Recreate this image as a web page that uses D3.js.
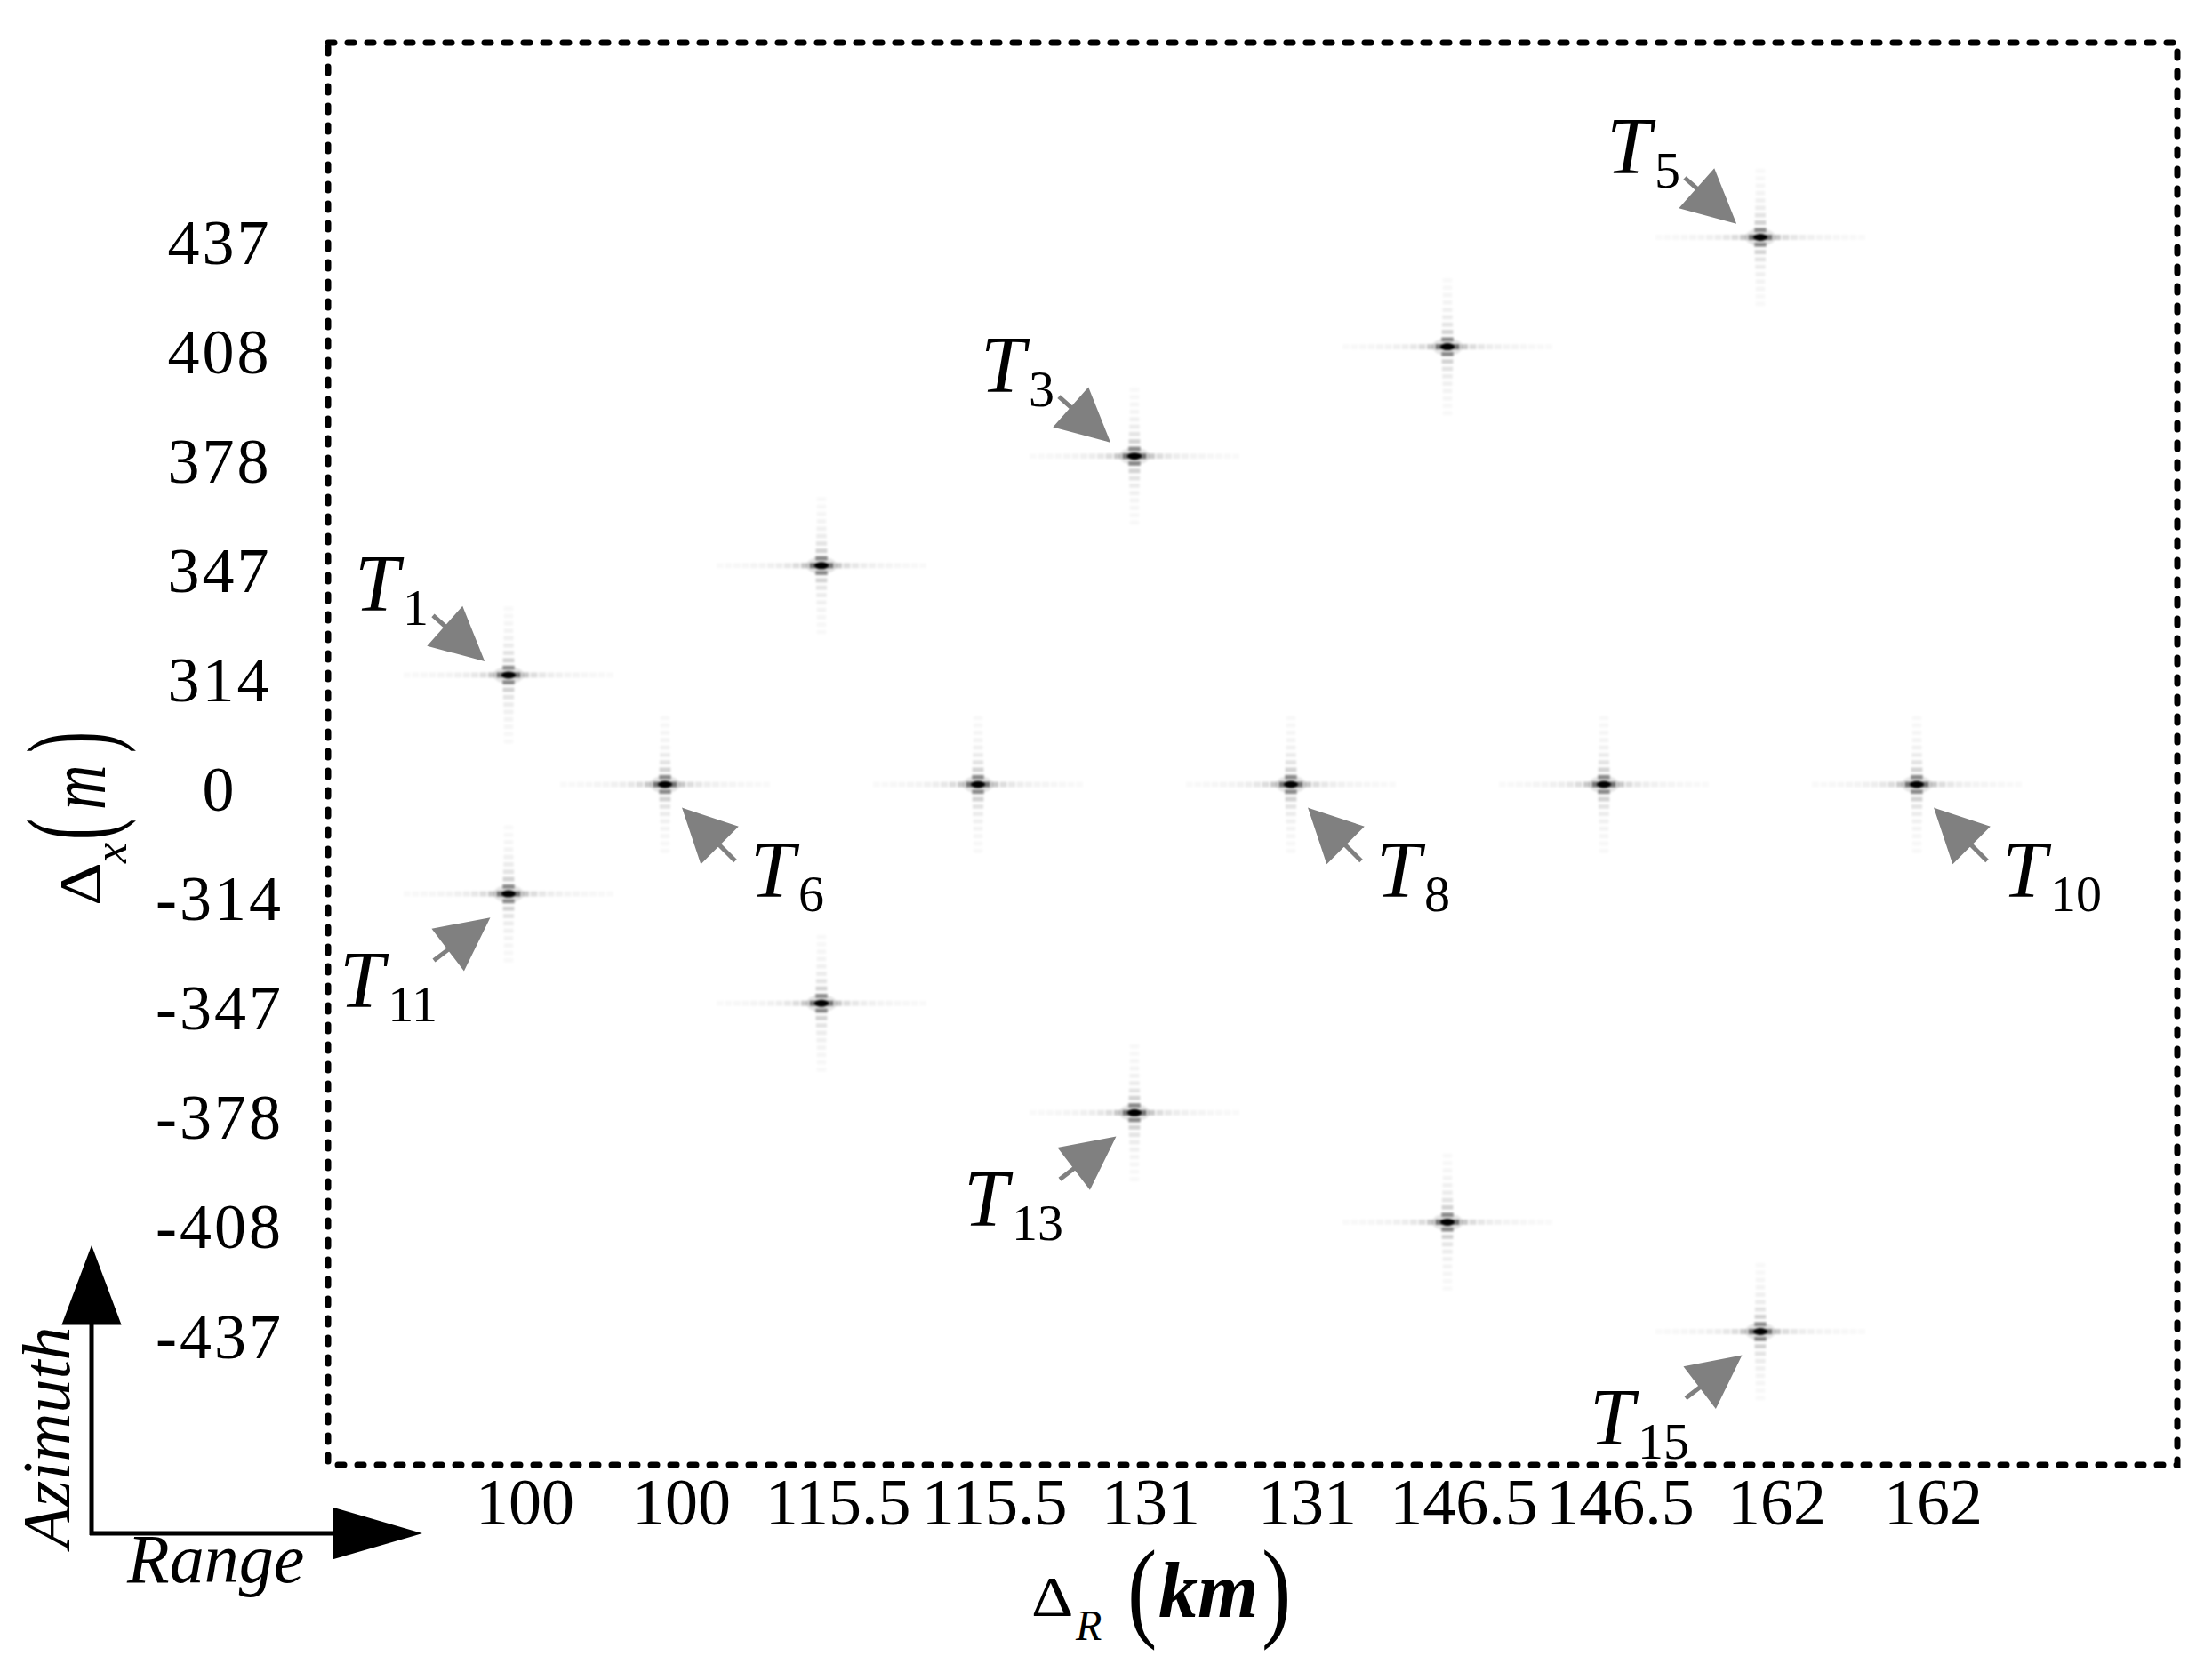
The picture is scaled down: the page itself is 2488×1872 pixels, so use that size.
<!DOCTYPE html>
<meta charset="utf-8">
<style>
  body { margin: 0; background: #fff; }
  text { font-family: "Liberation Serif", "Times New Roman", serif; fill: #000; }

  .frame {
    fill: none;
    stroke: #000;
    stroke-width: 7;
    stroke-dasharray: 7,15;
    stroke-linecap: round;
  }

  .x.axis text { font-size: 74px; }
  .y.axis text { font-size: 72px; letter-spacing: 3px; }

  .pointer { fill: #808080; stroke: #808080; stroke-width: 5; }
  .compass { fill: #000; stroke: #000; stroke-width: 5; }

  .tname { font-style: italic; font-size: 90px; }
  .tname tspan { font-style: normal; font-size: 58px; }
  .it { font-style: italic; }
</style>
<body>
<script src="https://d3js.org/d3.v7.min.js"></script>
<script>
var width = 2488, height = 1872;

// tick labels
var rangeLabels = ["100", "100", "115.5", "115.5", "131", "131", "146.5", "146.5", "162", "162"];
var azimuthLabels = ["437", "408", "378", "347", "314", "0", "-314", "-347", "-378", "-408", "-437"];

// point targets: number, range column, azimuth row
var targetIds = [1, 2, 3, 4, 5, 6, 7, 8, 9, 10, 11, 12, 13, 14, 15];
var targetCol = [0, 2, 4, 6, 8, 1, 3, 5, 7, 9, 0, 2, 4, 6, 8];
var targetRow = ["314", "347", "378", "408", "437", "0", "0", "0", "0", "0", "-314", "-347", "-378", "-408", "-437"];
var namedTargets = [1, 3, 5, 6, 8, 10, 11, 13, 15];

var frame = {left: 369, top: 48, right: 2449, bottom: 1648};

var svg = d3.select("body").append("svg")
    .attr("width", width)
    .attr("height", height);

var defs = svg.append("defs");
defs.append("filter").attr("id", "soft")
    .attr("x", "-50%").attr("y", "-50%").attr("width", "200%").attr("height", "200%")
  .append("feGaussianBlur").attr("stdDeviation", 0.9);

var x = d3.scalePoint()
    .domain(d3.range(rangeLabels.length))
    .range([572, 2156]);

var y = d3.scalePoint()
    .domain(azimuthLabels)
    .range([267, 1498]);

// dotted frame
svg.append("rect")
    .attr("class", "frame")
    .attr("x", frame.left)
    .attr("y", frame.top)
    .attr("width", frame.right - frame.left)
    .attr("height", frame.bottom - frame.top);

// axes (labels only)
var gx = svg.append("g")
    .attr("class", "x axis")
    .attr("transform", "translate(18," + (frame.bottom + 14) + ")")
    .call(d3.axisBottom(x).tickSize(0).tickPadding(0).tickFormat(function(i) { return rangeLabels[i]; }));
gx.select(".domain").remove();

var gy = svg.append("g")
    .attr("class", "y axis")
    .attr("transform", "translate(247,6)")
    .call(d3.axisLeft(y).tickSize(0).tickPadding(0));
gy.select(".domain").remove();
gy.selectAll("text").attr("text-anchor", "middle").attr("x", 0);

// targets
var targets = targetIds.map(function(id, i) {
  return {id: id, col: targetCol[i], row: targetRow[i]};
});

var hLobes = d3.range(1, 13).flatMap(function(k) { return [k, -k]; });
var vLobes = d3.range(1, 10).flatMap(function(k) { return [k, -k]; });

var tg = svg.append("g").attr("class", "targets")
  .selectAll("g")
    .data(targets)
  .enter().append("g")
    .attr("transform", function(d) { return "translate(" + x(d.col) + "," + y(d.row) + ")"; })
    .attr("filter", "url(#soft)");

tg.selectAll(".hl")
    .data(hLobes)
  .enter().append("rect")
    .attr("class", "hl")
    .attr("x", function(k) { return k * 9.5 - 4; })
    .attr("y", -3)
    .attr("width", 8)
    .attr("height", 6)
    .attr("fill", "#000")
    .attr("fill-opacity", function(k) { return 0.5 * Math.pow(Math.abs(k), -1.2); });

tg.selectAll(".vl")
    .data(vLobes)
  .enter().append("rect")
    .attr("class", "vl")
    .attr("x", function(k) { return -7 + Math.min(Math.abs(k), 6) * 0.3; })
    .attr("y", function(k) { return k * 8.3 - 2.5; })
    .attr("width", function(k) { return 14 - Math.min(Math.abs(k), 6) * 0.6; })
    .attr("height", 5)
    .attr("fill", "#000")
    .attr("fill-opacity", function(k) { return 0.4 * Math.pow(Math.abs(k), -1.2); });

tg.append("ellipse")
    .attr("rx", 17).attr("ry", 10)
    .attr("fill", "#000").attr("fill-opacity", 0.1);

tg.append("ellipse")
    .attr("rx", 8).attr("ry", 4)
    .attr("fill", "#000");

// target names with grey pointers
var sides = {
  nw: {anchor: "end", tx: -90, ty: -72, from: [-85, -67], to: [-31, -19]},
  se: {anchor: "start", tx: 96, ty: 126, from: [79, 86], to: [23, 30]},
  sw: {anchor: "end", tx: -80, ty: 127, from: [-84, 75], to: [-25, 30]}
};

function sideOf(d) {
  var r = azimuthLabels.indexOf(d.row), mid = azimuthLabels.indexOf("0");
  return r < mid ? "nw" : (r === mid ? "se" : "sw");
}

function arrowPath(x0, y0, x1, y1, headLen, headHalf) {
  var dx = x1 - x0, dy = y1 - y0, len = Math.sqrt(dx * dx + dy * dy);
  var ux = dx / len, uy = dy / len, nx = -uy, ny = ux;
  var bx = x1 - ux * headLen, by = y1 - uy * headLen;
  return "M" + x0 + "," + y0 + "L" + bx + "," + by +
    "M" + x1 + "," + y1 +
    "L" + (bx + nx * headHalf) + "," + (by + ny * headHalf) +
    "L" + (bx - nx * headHalf) + "," + (by - ny * headHalf) + "Z";
}

var named = targets.filter(function(d) { return namedTargets.indexOf(d.id) >= 0; });

var lg = svg.append("g").attr("class", "names")
  .selectAll("g")
    .data(named)
  .enter().append("g")
    .attr("transform", function(d) { return "translate(" + x(d.col) + "," + y(d.row) + ")"; });

lg.append("path")
    .attr("class", "pointer")
    .attr("d", function(d) {
      var s = sides[sideOf(d)];
      return arrowPath(s.from[0], s.from[1], s.to[0], s.to[1], 52, 26);
    });

var nt = lg.append("text")
    .attr("class", "tname")
    .attr("x", function(d) { return sides[sideOf(d)].tx; })
    .attr("y", function(d) { return sides[sideOf(d)].ty; })
    .attr("text-anchor", function(d) { return sides[sideOf(d)].anchor; })
    .text("T");
nt.append("tspan")
    .attr("dx", 4)
    .attr("dy", 16)
    .text(function(d) { return d.id; });

// azimuth / range compass
var compass = svg.append("g").attr("class", "compass");
compass.append("path").attr("d", arrowPath(103, 1727, 103, 1408, 80, 30));
compass.append("path").attr("d", arrowPath(101, 1725, 466, 1725, 89, 26));

svg.append("text")
    .attr("class", "it")
    .attr("transform", "translate(78,1617) rotate(-90)")
    .attr("text-anchor", "middle")
    .style("font-size", "76px")
    .text("Azimuth");

svg.append("text")
    .attr("class", "it")
    .attr("x", 143)
    .attr("y", 1780)
    .style("font-size", "78px")
    .text("Range");

// y title: Δx(m), rotated
var yt = svg.append("g").attr("transform", "translate(112,1015) rotate(-90)");
yt.append("text").attr("transform", "translate(-4,0) scale(1.15,1)").style("font-size", "66px").text("Δ");
yt.append("text").attr("class", "it").attr("x", 44).attr("y", 30).style("font-size", "52px").text("x");
yt.append("text").attr("transform", "translate(70,12) scale(1,1.88)").style("font-size", "72px").text("(");
yt.append("text").attr("class", "it").attr("transform", "translate(104,6) scale(1,1.3)")
    .style("font-size", "70px").text("m");
yt.append("text").attr("transform", "translate(168,12) scale(1,1.88)").style("font-size", "72px").text(")");

// x title: ΔR(km)
var xt = svg.append("g");
xt.append("text").attr("transform", "translate(1160,1818) scale(1.15,1)").style("font-size", "64px").text("Δ");
xt.append("text").attr("class", "it").attr("x", 1210).attr("y", 1845).style("font-size", "48px").text("R");
xt.append("text").attr("transform", "translate(1268,1830) scale(1,1.25)").style("font-size", "100px").text("(");
xt.append("text").attr("class", "it").attr("x", 1303).attr("y", 1819)
    .style("font-size", "88px").style("font-weight", "bold").text("km");
xt.append("text").attr("transform", "translate(1419,1830) scale(1,1.25)").style("font-size", "100px").text(")");
</script>
</body>
</html>
